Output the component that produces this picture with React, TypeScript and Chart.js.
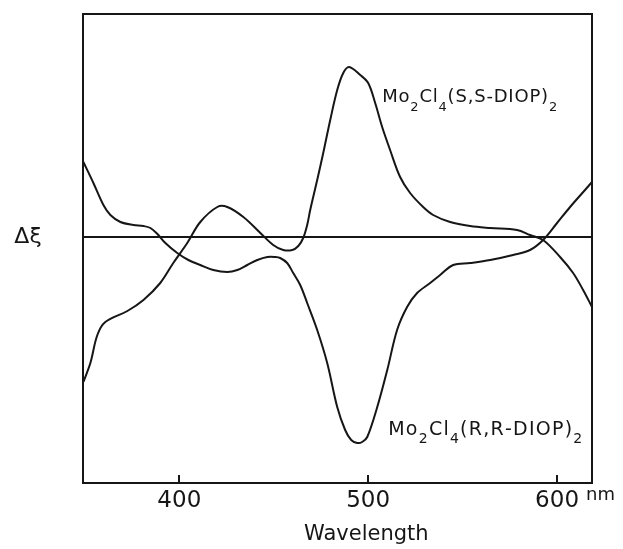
import React, { useEffect, useRef } from "react";
import { Chart, registerables } from "chart.js";

Chart.register(...registerables);

// Mo2Cl4(S,S-DIOP)2 : wavelength (nm) and Δξ (arbitrary units)
const wavelengthSS = [349.2, 352.9, 356.6, 360.8, 372.5, 381.0, 389.9, 396.8, 404.2, 411.1, 420.1, 425.4, 433.9, 442.9, 449.7, 455.0, 459.8, 463.0, 465.6, 467.7, 469.3, 473.0, 476.2, 479.9, 483.6, 486.8, 489.9, 495.8, 500.0, 503.7, 507.4, 511.6, 516.9, 522.2, 529.1, 534.4, 543.4, 554.0, 564.6, 578.8, 585.7, 592.6, 601.6, 608.5, 613.8, 618.5];
const deltaSS = [-1.45, -1.26, -0.98, -0.85, -0.74, -0.63, -0.46, -0.26, -0.06, 0.15, 0.30, 0.30, 0.20, 0.04, -0.08, -0.13, -0.13, -0.09, -0.01, 0.12, 0.27, 0.57, 0.84, 1.17, 1.47, 1.64, 1.70, 1.62, 1.54, 1.34, 1.10, 0.87, 0.60, 0.44, 0.30, 0.22, 0.15, 0.11, 0.09, 0.07, 0.02, -0.03, -0.20, -0.36, -0.53, -0.70];

// Mo2Cl4(R,R-DIOP)2
const wavelengthRR = [349.2, 354.5, 359.8, 363.5, 368.8, 375.7, 381.0, 384.7, 388.4, 392.6, 398.9, 404.8, 411.1, 418.0, 425.4, 430.7, 436.0, 441.3, 446.6, 450.8, 453.4, 457.1, 460.3, 464.0, 467.7, 473.0, 478.3, 483.6, 487.8, 491.0, 494.2, 496.8, 499.5, 504.8, 510.1, 515.3, 520.6, 525.9, 532.8, 538.1, 545.0, 554.0, 564.6, 576.7, 585.7, 592.6, 600.0, 606.9, 614.8, 618.5];
const deltaRR = [0.75, 0.54, 0.32, 0.22, 0.15, 0.12, 0.11, 0.09, 0.03, -0.06, -0.16, -0.23, -0.28, -0.33, -0.35, -0.33, -0.28, -0.23, -0.20, -0.20, -0.21, -0.26, -0.36, -0.48, -0.66, -0.93, -1.26, -1.70, -1.93, -2.03, -2.06, -2.05, -2.00, -1.70, -1.33, -0.93, -0.70, -0.56, -0.46, -0.38, -0.28, -0.26, -0.23, -0.18, -0.13, -0.03, 0.14, 0.30, 0.47, 0.55];

// zero baseline
const baselineX = [349, 618.5];
const baselineY = [0, 0];

const xTicks = [400, 500, 600];
const xMin = 349;
const xMax = 618.5;
const yMin = -2.46;
const yMax = 2.23;

const labelSS: [string, boolean][] = [["Mo", false], ["2", true], ["Cl", false], ["4", true], ["(S,S-DIOP)", false], ["2", true]];
const labelRR: [string, boolean][] = [["Mo", false], ["2", true], ["Cl", false], ["4", true], ["(R,R-DIOP)", false], ["2", true]];
const labelSSPos = { x: 507.4, y: 1.35 };
const labelRRPos = { x: 510.6, y: -1.98 };
const xTitle = "Wavelength";
const xTitleCenter = 499; // nm position of title centre
const xUnit = "nm";
const yTitle = "Δξ";

const FONT = "'DejaVu Sans', sans-serif";
const INK = "#161616";

function toPoints(xs: number[], ys: number[]) {
  return xs.map((x, i) => ({ x, y: ys[i] }));
}

function drawChem(
  ctx: CanvasRenderingContext2D,
  parts: [string, boolean][],
  x: number,
  baseline: number,
  size: number,
  subSize: number,
  drop: number,
  target: number
) {
  const chars: { c: string; sub: boolean }[] = [];
  parts.forEach(([s, sub]) => {
    for (const c of s) chars.push({ c, sub });
  });
  let natural = 0;
  const widths = chars.map((ch) => {
    ctx.font = `${ch.sub ? subSize : size}px ${FONT}`;
    const w = ctx.measureText(ch.c).width;
    natural += w;
    return w;
  });
  const extra = (target - natural) / (chars.length - 1);
  let cx = x;
  ctx.textAlign = "left";
  ctx.textBaseline = "alphabetic";
  chars.forEach((ch, i) => {
    ctx.font = `${ch.sub ? subSize : size}px ${FONT}`;
    ctx.fillText(ch.c, cx, ch.sub ? baseline + drop : baseline);
    cx += widths[i] + extra;
  });
}

const framePlugin = {
  id: "frame",
  afterDatasetsDraw(chart: any) {
    const { ctx, chartArea } = chart;
    const xs = chart.scales.x;
    const ys = chart.scales.y;
    ctx.save();
    ctx.strokeStyle = INK;
    ctx.lineWidth = 2;
    ctx.strokeRect(chartArea.left, chartArea.top, chartArea.right - chartArea.left, chartArea.bottom - chartArea.top);
    // inward ticks
    xTicks.forEach((t) => {
      const px = Math.round(xs.getPixelForValue(t));
      ctx.beginPath();
      ctx.moveTo(px, chartArea.bottom);
      ctx.lineTo(px, chartArea.bottom - 8);
      ctx.stroke();
    });
    ctx.fillStyle = INK;
    // y-axis label
    ctx.font = `22px ${FONT}`;
    ctx.textAlign = "center";
    ctx.textBaseline = "middle";
    ctx.fillText(yTitle, chartArea.left - 55, ys.getPixelForValue(0));
    // x-axis title
    ctx.font = `21px ${FONT}`;
    ctx.textAlign = "center";
    ctx.textBaseline = "alphabetic";
    ctx.fillText(xTitle, xs.getPixelForValue(xTitleCenter), chartArea.bottom + 57);
    // unit
    ctx.font = `18px ${FONT}`;
    ctx.textAlign = "left";
    ctx.fillText(xUnit, xs.getPixelForValue(600) + 29, chartArea.bottom + 17);
    // curve annotations
    drawChem(ctx, labelSS, xs.getPixelForValue(labelSSPos.x), ys.getPixelForValue(labelSSPos.y), 18, 13, 9, 175);
    drawChem(ctx, labelRR, xs.getPixelForValue(labelRRPos.x), ys.getPixelForValue(labelRRPos.y), 19, 14, 8, 194);
    ctx.restore();
  },
};

export default function App() {
  const ref = useRef<HTMLCanvasElement | null>(null);
  useEffect(() => {
    if (!ref.current) return;
    const lineStyle = {
      borderColor: INK,
      borderWidth: 2,
      pointRadius: 0,
      fill: false,
      tension: 0.35,
    };
    const chart = new Chart(ref.current, {
      type: "line",
      data: {
        datasets: [
          { label: "Mo2Cl4(S,S-DIOP)2", data: toPoints(wavelengthSS, deltaSS), ...lineStyle },
          { label: "Mo2Cl4(R,R-DIOP)2", data: toPoints(wavelengthRR, deltaRR), ...lineStyle },
          { label: "baseline", data: toPoints(baselineX, baselineY), ...lineStyle, tension: 0 },
        ],
      },
      options: {
        responsive: false,
        animation: false,
        devicePixelRatio: 1,
        layout: { padding: { left: 83, right: 31, top: 14, bottom: 0 } },
        plugins: { legend: { display: false }, tooltip: { enabled: false } },
        scales: {
          x: {
            type: "linear",
            min: xMin,
            max: xMax,
            afterBuildTicks: (s: any) => {
              s.ticks = xTicks.map((v) => ({ value: v }));
            },
            afterFit: (s: any) => {
              s.height = 66;
            },
            grid: { display: false, drawTicks: false },
            border: { display: false },
            ticks: {
              color: INK,
              font: { family: FONT, size: 23 },
              padding: 4,
              maxRotation: 0,
              autoSkip: false,
              callback: (v: any) => String(v),
            },
          },
          y: { display: false, min: yMin, max: yMax },
        },
      },
      plugins: [framePlugin],
    });
    return () => chart.destroy();
  }, []);
  return (
    <div style={{ position: "absolute", left: 0, top: 0, width: 623, height: 549, background: "#fff" }}>
      <canvas ref={ref} width={623} height={549} />
    </div>
  );
}
